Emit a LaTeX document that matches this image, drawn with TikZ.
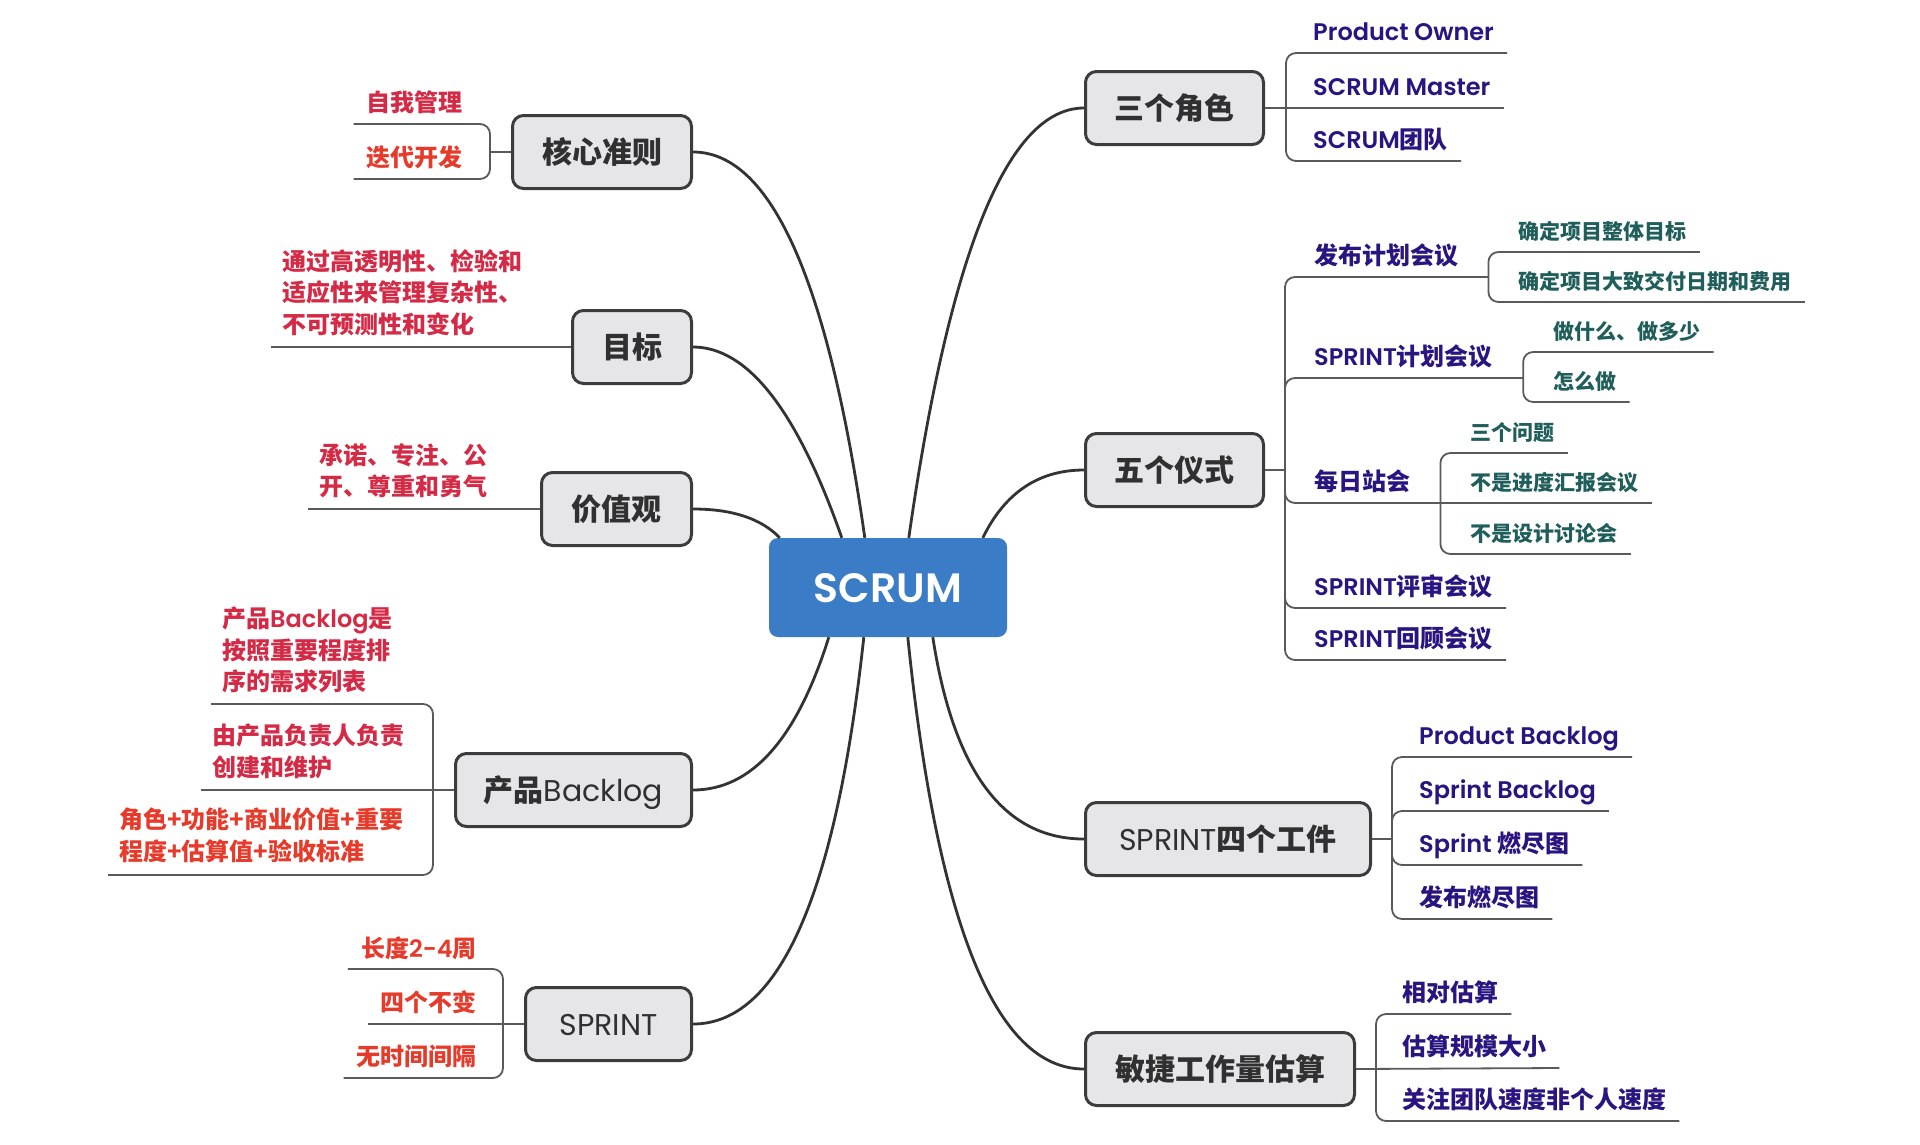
\documentclass[tikz,border=0pt]{standalone}
\usepackage{fontspec}
\setmainfont{Noto Sans CJK SC}
\newfontfamily\latfam{Poppins}[BoldFont={Poppins SemiBold}]
\usetikzlibrary{calc}
\definecolor{crim}{HTML}{D42A45}
\definecolor{ored}{HTML}{E63A2A}
\definecolor{purp}{HTML}{2A1580}
\definecolor{tealc}{HTML}{1F5E5A}
\definecolor{boxfill}{HTML}{E6E6E8}
\definecolor{boxline}{HTML}{3C3C3C}
\definecolor{topictext}{HTML}{303030}
\definecolor{linec}{HTML}{333333}
\definecolor{branchc}{HTML}{5A5A5A}
\definecolor{rootc}{HTML}{3A7DC6}
\newcommand\latw[1]{{\latfam #1}}
\newcommand\latr[1]{{\latfam\mdseries #1}}
\newcommand\lsx{\rule[-0.12em]{0pt}{1em}}
\newcommand\qcurve[3]{\draw[mainline] (#1) .. controls ($(#1)!0.6667!(#2)$) and ($(#3)!0.6667!(#2)$) .. (#3);}
\tikzset{
  mainline/.style={draw=linec, line width=2.8pt},
  branch/.style={draw=branchc, line width=1.8pt, rounded corners=10pt},
  topic/.style={draw=boxline, fill=boxfill, line width=3pt, rounded corners=11pt,
    minimum height=73pt, inner xsep=8pt, inner ysep=0pt, text=topictext,
    font=\fontsize{30}{36}\selectfont\bfseries, text height=26.4pt, text depth=3.6pt},
  root/.style={fill=rootc, rounded corners=9pt, minimum width=238pt, minimum height=99pt,
    text=white, font=\fontsize{41}{48}\selectfont\latfam\bfseries, text height=29pt, text depth=0pt},
  leaf/.style={inner xsep=13pt, inner ysep=0pt, font=\fontsize{24}{32}\selectfont\bfseries,
    text height=21.1pt, text depth=2.9pt},
  subleaf/.style={inner xsep=13pt, inner ysep=0pt, font=\fontsize{21}{28}\selectfont\bfseries,
    text height=18.5pt, text depth=2.5pt, text=tealc},
  mleaf/.style={inner xsep=11pt, inner ysep=0pt, align=left, font=\fontsize{24}{31.5}\selectfont\bfseries},
}
\begin{document}
\begin{tikzpicture}[x=1pt,y=-1pt]
\useasboundingbox (0,0) rectangle (1920,1144);
\fill[white] (0,0) rectangle (1920,1144);

% root
\node[root] (scrum) at (888,587.5) {SCRUM};
\coordinate (t1) at ($(scrum.north west)+(96,0)$);
\coordinate (t2) at ($(scrum.north west)+(73,0)$);
\coordinate (t3) at ($(scrum.north west)+(11,0)$);
\coordinate (t4) at ($(scrum.north west)+(140,0)$);
\coordinate (t5) at ($(scrum.north west)+(214,0)$);
\coordinate (u1) at ($(scrum.south west)+(60,0)$);
\coordinate (u2) at ($(scrum.south west)+(95,0)$);
\coordinate (u3) at ($(scrum.south west)+(139,0)$);
\coordinate (u4) at ($(scrum.south west)+(164,0)$);

% topics left
\node[topic, minimum width=179pt, anchor=east] (hx) at (693,152) {核心准则};
\node[topic, minimum width=119pt, anchor=east] (mb) at (693,347) {目标};
\node[topic, minimum width=150pt, anchor=east] (jz) at (693,509) {价值观};
\node[topic, minimum width=236pt, anchor=east] (bl) at (693,790) {产品\latr{Backlog}};
\node[topic, minimum width=166pt, anchor=east] (sp) at (693,1024) {\latr{SPRINT}};
% topics right
\node[topic, minimum width=178pt, anchor=west] (js) at (1084,108) {三个角色};
\node[topic, minimum width=178pt, anchor=west] (yx) at (1084,470) {五个仪式};
\node[topic, minimum width=285pt, anchor=west] (gj) at (1084,839) {\latr{SPRINT}四个工件};
\node[topic, minimum width=269pt, anchor=west] (gs) at (1084,1069) {敏捷工作量估算};

% main curves
\qcurve{hx.east}{810,152}{t1}
\qcurve{mb.east}{775,347}{t2}
\qcurve{jz.east}{752,509}{t3}
\qcurve{bl.east}{781,790}{u1}
\qcurve{sp.east}{822,1024}{u2}
\qcurve{t4}{970,108}{js.west}
\qcurve{t5}{1016,470}{yx.west}
\qcurve{u4}{964,839}{gj.west}
\qcurve{u3}{952,1069}{gs.west}

% ---------- left leaves
\node[leaf, text=crim, anchor=east] (h1) at (476,102) {自我管理};
\node[leaf, text=ored, anchor=east] (h2) at (476,157) {迭代开发};
\node[mleaf, text=crim, anchor=west] (m1) at (271,292.5) {\lsx 通过高透明性、检验和\\\lsx 适应性来管理复杂性、\\\lsx 不可预测性和变化};
\node[mleaf, text=crim, anchor=west] (v1) at (308,471) {\lsx 承诺、专注、公\\\lsx 开、尊重和勇气};
\node[mleaf, text=crim, anchor=west] (b1) at (211,650) {\lsx 产品\latw{Backlog}是\\\lsx 按照重要程度排\\\lsx 序的需求列表};
\node[mleaf, text=crim, anchor=west] (b2) at (201,751.5) {\lsx 由产品负责人负责\\\lsx 创建和维护};
\node[mleaf, text=ored, anchor=west] (b3) at (108,835.5) {\lsx 角色+功能+商业价值+重要\\\lsx 程度+估算值+验收标准};
\node[leaf, text=ored, anchor=east] (p1) at (490,948) {长度\latw{2-4}周};
\node[leaf, text=ored, anchor=east] (p2) at (490,1002) {四个不变};
\node[leaf, text=ored, anchor=east] (p3) at (490,1056) {无时间间隔};

% left branches
\coordinate (hxJ) at ($(hx.west)+(-21,0)$);
\coordinate (h1u) at ($(h1.west)+(0,22)$);
\coordinate (h2u) at ($(h2.west)+(0,22)$);
\draw[branch] (hx.west) -- (hxJ);
\draw[branch] (hxJ) -- (hxJ |- h1u) -- (h1u);
\draw[branch] (hxJ) -- (hxJ |- h2u) -- (h2u);
\draw[branch] (mb.west) -- (mb.west -| m1.west);
\draw[branch] (jz.west) -- (jz.west -| v1.west);
\coordinate (blJ) at ($(bl.west)+(-21,0)$);
\coordinate (b1u) at ($(b1.west)+(0,54)$);
\coordinate (b2u) at ($(b2.west)+(0,38.5)$);
\coordinate (b3u) at ($(b3.west)+(0,39.5)$);
\draw[branch] (bl.west) -- (b2u);
\draw[branch] (blJ) -- (blJ |- b1u) -- (b1u);
\draw[branch] (blJ) -- (blJ |- b3u) -- (b3u);
\coordinate (spJ) at ($(sp.west)+(-21,0)$);
\coordinate (p1u) at ($(p1.west)+(0,21)$);
\coordinate (p2u) at ($(p2.west)+(0,22)$);
\coordinate (p3u) at ($(p3.west)+(0,22)$);
\draw[branch] (sp.west) -- (p2u);
\draw[branch] (spJ) -- (spJ |- p1u) -- (p1u);
\draw[branch] (spJ) -- (spJ |- p3u) -- (p3u);

% ---------- right: 三个角色
\node[leaf, text=purp, anchor=west] (js1) at (1300,31) {\latw{Product Owner}};
\node[leaf, text=purp, anchor=west] (js2) at (1300,86) {\latw{SCRUM Master}};
\node[leaf, text=purp, anchor=west] (js3) at (1300,139) {\latw{SCRUM}团队};
\coordinate (jsJ) at ($(js.east)+(21,0)$);
\coordinate (js1u) at ($(js1.east)+(0,22)$);
\coordinate (js2u) at ($(js2.east)+(0,22)$);
\coordinate (js3u) at ($(js3.east)+(0,22)$);
\draw[branch] (js.east) -- (js2u);
\draw[branch] (jsJ) -- (jsJ |- js1u) -- (js1u);
\draw[branch] (jsJ) -- (jsJ |- js3u) -- (js3u);

% ---------- right: 五个仪式
\node[leaf, text=purp, anchor=west] (y1) at (1301,255) {发布计划会议};
\node[leaf, text=purp, anchor=west] (y2) at (1301,356) {\latw{SPRINT}计划会议};
\node[leaf, text=purp, anchor=west] (y3) at (1301,481) {每日站会};
\node[leaf, text=purp, anchor=west] (y4) at (1301,586) {\latw{SPRINT}评审会议};
\node[leaf, text=purp, anchor=west] (y5) at (1301,638) {\latw{SPRINT}回顾会议};
\coordinate (yxJ) at ($(yx.east)+(20,0)$);
\coordinate (y1J) at ($(y1.east)+(17,22)$);
\coordinate (y2J) at ($(y2.east)+(17,22)$);
\coordinate (y3J) at ($(y3.east)+(17,22)$);
\coordinate (y4u) at ($(y4.east)+(0,22)$);
\coordinate (y5u) at ($(y5.east)+(0,22)$);
\draw[branch] (yx.east) -- (yxJ);
\draw[branch] (yxJ) -- (yxJ |- y1J) -- (y1J);
\draw[branch] (yxJ) -- (yxJ |- y2J) -- (y2J);
\draw[branch] (yxJ) -- (yxJ |- y3J) -- (y3J);
\draw[branch] (yxJ) -- (yxJ |- y4u) -- (y4u);
\draw[branch] (yxJ) -- (yxJ |- y5u) -- (y5u);

\node[subleaf, anchor=west] (y1a) at ($(y1J)+(17,-46)$) {确定项目整体目标};
\node[subleaf, anchor=west] (y1b) at ($(y1J)+(17,4)$) {确定项目大致交付日期和费用};
\node[subleaf, anchor=west] (y2a) at ($(y2J)+(17,-47)$) {做什么、做多少};
\node[subleaf, anchor=west] (y2b) at ($(y2J)+(17,3)$) {怎么做};
\node[subleaf, anchor=west] (y3a) at ($(y3J)+(17,-71)$) {三个问题};
\node[subleaf, anchor=west] (y3b) at ($(y3J)+(17,-21)$) {不是进度汇报会议};
\node[subleaf, anchor=west] (y3c) at ($(y3J)+(17,30)$) {不是设计讨论会};
\coordinate (y1au) at ($(y1a.east)+(0,21)$);
\coordinate (y1bu) at ($(y1b.east)+(0,21)$);
\coordinate (y2au) at ($(y2a.east)+(0,21)$);
\coordinate (y2bu) at ($(y2b.east)+(0,21)$);
\coordinate (y3au) at ($(y3a.east)+(0,21)$);
\coordinate (y3bu) at ($(y3b.east)+(0,21)$);
\coordinate (y3cu) at ($(y3c.east)+(0,21)$);
\draw[branch] (y1J) -- (y1J |- y1au) -- (y1au);
\draw[branch] (y1J) -- (y1J |- y1bu) -- (y1bu);
\draw[branch] (y2J) -- (y2J |- y2au) -- (y2au);
\draw[branch] (y2J) -- (y2J |- y2bu) -- (y2bu);
\draw[branch] (y3J) -- (y3J |- y3au) -- (y3au);
\draw[branch] (y3J) -- (y3bu);
\draw[branch] (y3J) -- (y3J |- y3cu) -- (y3cu);

% ---------- right: SPRINT四个工件
\node[leaf, text=purp, anchor=west] (g1) at (1406,735) {\latw{Product Backlog}};
\node[leaf, text=purp, anchor=west] (g2) at (1406,789) {\latw{Sprint Backlog}};
\node[leaf, text=purp, anchor=west] (g3) at (1406,843) {\latw{Sprint} 燃尽图};
\node[leaf, text=purp, anchor=west] (g4) at (1406,897) {发布燃尽图};
\coordinate (gjJ) at ($(gj.east)+(20,0)$);
\coordinate (g1u) at ($(g1.east)+(0,22)$);
\coordinate (g2u) at ($(g2.east)+(0,22)$);
\coordinate (g3u) at ($(g3.east)+(0,22)$);
\coordinate (g4u) at ($(g4.east)+(0,22)$);
\draw[branch] (gj.east) -- (gjJ);
\draw[branch] (gjJ) -- (gjJ |- g1u) -- (g1u);
\draw[branch] (gjJ) -- (gjJ |- g2u) -- (g2u);
\draw[branch] (gjJ) -- (gjJ |- g3u) -- (g3u);
\draw[branch] (gjJ) -- (gjJ |- g4u) -- (g4u);

% ---------- right: 敏捷工作量估算
\node[leaf, text=purp, anchor=west] (s1) at (1389,992) {相对估算};
\node[leaf, text=purp, anchor=west] (s2) at (1389,1046) {估算规模大小};
\node[leaf, text=purp, anchor=west] (s3) at (1389,1099) {关注团队速度非个人速度};
\coordinate (gsJ) at ($(gs.east)+(20,0)$);
\coordinate (s1u) at ($(s1.east)+(0,22)$);
\coordinate (s2u) at ($(s2.east)+(0,22)$);
\coordinate (s3u) at ($(s3.east)+(0,22)$);
\draw[branch] (gs.east) -- (s2u);
\draw[branch] (gsJ) -- (gsJ |- s1u) -- (s1u);
\draw[branch] (gsJ) -- (gsJ |- s3u) -- (s3u);
\end{tikzpicture}
\end{document}
